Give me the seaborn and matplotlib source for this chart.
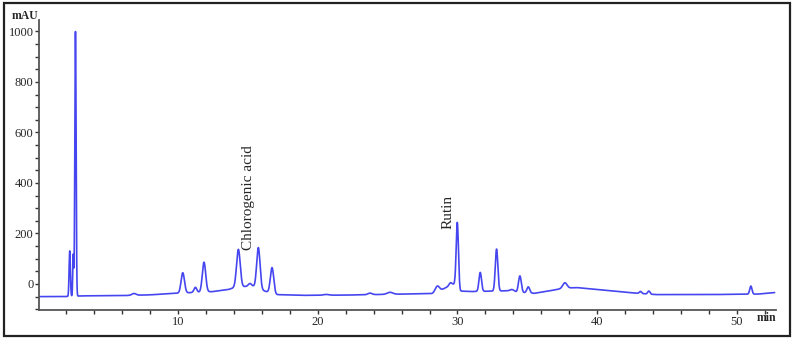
import numpy as np
import pandas as pd
import seaborn as sns
import matplotlib
matplotlib.use("Agg")
import matplotlib.pyplot as plt
from matplotlib.ticker import MultipleLocator
from matplotlib.patches import Rectangle

# Baseline knots (time in min, mAU)
base_t = [0, 1.8, 3.2, 6, 8, 9.8, 12.5, 13.6, 14.0, 14.8, 15.4, 16.2, 17.0, 19, 22, 26,
          28.2, 28.8, 29.5, 29.8, 30.2, 31, 33.5, 34.2, 35.5, 36.5, 37.5, 38.5, 40, 42,
          44.2, 48, 51.5, 52.7]
base_v = [-50, -50, -47, -46, -43, -37, -30, -22, -15, -10, -10, -28, -42, -45, -44, -40,
          -38, -25, -5, 0, -28, -30, -27, -32, -37, -28, -18, -14, -22, -33,
          -42, -42, -40, -34]

# Peaks: retention time (min), height above baseline (mAU), width (min)
peak_t = [2.25, 2.50, 2.66, 6.85, 10.34, 11.24, 11.86, 14.32, 15.15, 15.75, 16.73, 20.6,
          23.74, 25.17, 28.56, 29.5, 29.99, 31.63, 32.8, 33.9, 34.47, 35.07, 37.69,
          43.1, 43.7, 51.0]
peak_h = [180, 165, 1048, 7, 80, 20, 118, 150, 12, 162, 102, 3,
          6, 8, 22, 10, 257, 75, 166, 8, 65, 24, 22,
          8, 12, 32]
peak_w = [0.045, 0.035, 0.045, 0.15, 0.12, 0.1, 0.12, 0.13, 0.12, 0.12, 0.12, 0.2,
          0.15, 0.2, 0.15, 0.1, 0.08, 0.09, 0.09, 0.15, 0.1, 0.1, 0.15,
          0.08, 0.08, 0.08]

labels = ["Chlorogenic acid", "Rutin"]
label_t = [15.08, 29.35]
label_y = [135, 218]

t = np.linspace(0, 52.7, 10000)
signal = np.interp(t, base_t, base_v)
for c, h, w in zip(peak_t, peak_h, peak_w):
    signal = signal + h * np.exp(-0.5 * ((t - c) / w) ** 2)
df = pd.DataFrame({"time": t, "mAU": signal})

sns.set_theme(style="ticks")
plt.rcParams["font.family"] = ["Liberation Serif", "DejaVu Serif"]

fig = plt.figure(figsize=(7.96, 3.40), dpi=100)
ax = fig.add_axes([39 / 796, 1 - 310 / 340, (776 - 39) / 796, (310 - 20) / 340])
sns.lineplot(data=df, x="time", y="mAU", ax=ax, color="#4646F0", linewidth=1.2)

ax.set_xlim(0.05, 52.8)
ax.set_ylim(-103, 1045)
ax.xaxis.set_major_locator(MultipleLocator(10))
ax.xaxis.set_minor_locator(MultipleLocator(2))
ax.yaxis.set_major_locator(MultipleLocator(200))
ax.yaxis.set_minor_locator(MultipleLocator(50))
ax.set_xticks([10, 20, 30, 40, 50])
ax.set_yticks([0, 200, 400, 600, 800, 1000])
ax.tick_params(axis="both", which="both", direction="out", length=3, width=1,
               color="#333333", labelsize=9, pad=1)
ax.tick_params(axis="both", which="minor", length=3)
for s in ["top", "right"]:
    ax.spines[s].set_visible(False)
for s in ["left", "bottom"]:
    ax.spines[s].set_color("#555555")
    ax.spines[s].set_linewidth(1.3)
ax.set_xlabel("")
ax.set_ylabel("")

for lab, lt, ly in zip(labels, label_t, label_y):
    ax.text(lt, ly, lab, rotation=90, ha="center", va="bottom", fontsize=11)

fig.text(25 / 796, 1 - 16 / 340, "mAU", ha="center", va="center", fontsize=8.5,
         fontweight="bold")
fig.text(766 / 796, 1 - 318 / 340, "min", ha="center", va="center", fontsize=8.5,
         fontweight="bold")

fig.patches.append(Rectangle((4 / 796, 1 - 336 / 340), 786 / 796, 333 / 340,
                             transform=fig.transFigure, fill=False,
                             edgecolor="#222222", linewidth=1.6))

fig.savefig("out.png", dpi=100)
